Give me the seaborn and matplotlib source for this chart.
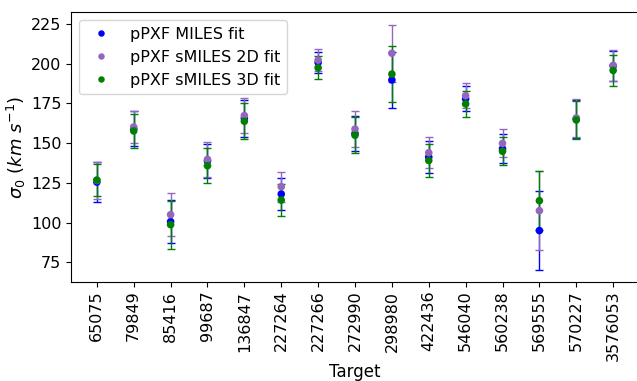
import matplotlib
matplotlib.use("Agg")
import matplotlib.pyplot as plt
import seaborn as sns
import pandas as pd

targets = ['65075', '79849', '85416', '99687', '136847', '227264', '227266',
           '272990', '298980', '422436', '546040', '560238', '569555',
           '570227', '3576053']

miles = [125.5, 159.0, 100.6, 138.8, 165.7, 118.0, 200.8, 156.1, 189.8,
         141.3, 177.9, 146.5, 95.0, 165.3, 198.6]
miles_err = [12.5, 11.0, 13.6, 10.5, 11.5, 10.0, 6.8, 11.2, 17.7,
             10.3, 7.9, 9.2, 25.0, 12.0, 9.7]
s2d = [126.5, 160.2, 105.0, 139.8, 167.4, 122.6, 202.3, 158.9, 206.6,
       144.0, 179.9, 149.9, 107.5, 165.9, 199.0]
s2d_err = [11.5, 10.0, 13.4, 11.0, 11.2, 9.5, 7.0, 11.5, 17.8,
           9.8, 7.9, 8.8, 24.7, 11.9, 9.6]
s3d = [126.8, 157.7, 98.7, 135.8, 163.8, 114.2, 197.5, 155.0, 193.5,
       139.1, 174.7, 144.9, 113.8, 164.6, 195.8]
s3d_err = [10.0, 10.5, 15.0, 11.0, 11.2, 10.0, 7.1, 11.4, 17.5,
           10.4, 8.0, 8.8, 18.5, 12.0, 9.8]

series_names = ['pPXF MILES fit', 'pPXF sMILES 2D fit', 'pPXF sMILES 3D fit']
colors = ['blue', 'tab:purple', 'green']

plt.rcParams['font.family'] = ['DejaVu Sans']

frames = []
for name, vals, errs in zip(series_names, [miles, s2d, s3d],
                            [miles_err, s2d_err, s3d_err]):
    frames.append(pd.DataFrame({'Target': targets, 'sigma': vals,
                                'err': errs, 'fit': name}))
df = pd.concat(frames, ignore_index=True)

fig = plt.figure(figsize=(6.37, 3.81), dpi=100)
ax = fig.add_axes([0.1115, 0.2606, 0.8916, 0.7071])

for name, c in zip(series_names, colors):
    sub = df[df['fit'] == name]
    ax.errorbar(sub['Target'], sub['sigma'], yerr=sub['err'], fmt='none',
                ecolor=c, elinewidth=1, capsize=2.7, capthick=1, zorder=2)

sns.scatterplot(data=df, x='Target', y='sigma', hue='fit',
                hue_order=series_names, palette=colors, s=30, linewidth=0,
                zorder=3, ax=ax)

ax.set_xlim(-0.7, 14.7)
ax.set_ylim(62.8, 232.4)
ax.set_yticks([75, 100, 125, 150, 175, 200, 225])
ax.tick_params(axis='x', labelrotation=90, labelsize=11.5, pad=3)
ax.tick_params(axis='y', labelsize=11.5)
ax.set_xlabel('Target', fontsize=12, labelpad=1)
ax.set_ylabel(r'$\sigma_0\ (km\ s^{-1})$', fontsize=13, labelpad=2)

sns.move_legend(ax, 'upper left', title=None, fontsize=11.5, frameon=True,
                markerscale=0.85)

fig.savefig('out.png', dpi=100)
